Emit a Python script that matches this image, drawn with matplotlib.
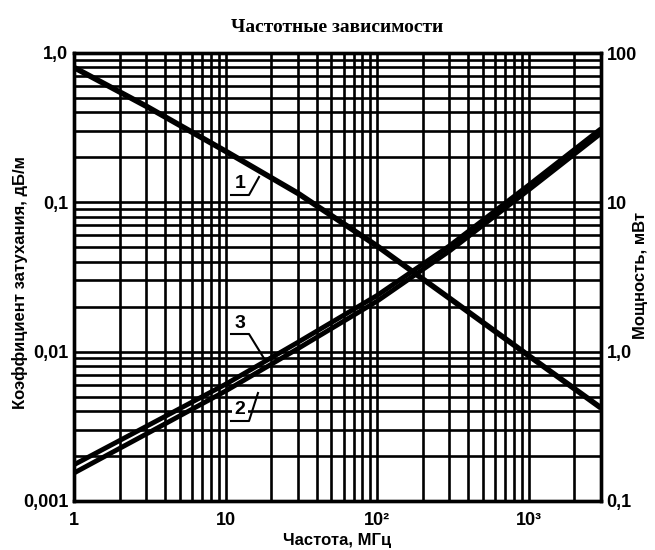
import matplotlib
matplotlib.use("Agg")
import matplotlib.pyplot as plt
from matplotlib.ticker import FixedLocator, NullFormatter, NullLocator

# ---- data ----
freq = [1, 3, 10, 30, 100, 300, 1000, 3000]                         # MHz
curve1 = [0.80, 0.44, 0.22, 0.115, 0.051, 0.0228, 0.0094, 0.0042]     # attenuation, dB/m
curve3 = [0.00175, 0.00316, 0.00605, 0.01155, 0.0238, 0.0511, 0.1303, 0.311]
curve2 = [0.00154, 0.00281, 0.00545, 0.01048, 0.0218, 0.0472, 0.1211, 0.290]

x_ticks = [1, 10, 100, 1000]
x_ticklabels = ["1", "10", "10²", "10³"]
y_ticks = [0.001, 0.01, 0.1, 1.0]
y_ticklabels = ["0,001", "0,01", "0,1", "1,0"]
y2_ticks = [0.1, 1, 10, 100]
y2_ticklabels = ["0,1", "1,0", "10", "100"]

title = "Частотные зависимости"
xlabel = "Частота, МГц"
ylabel = "Коэффициент затухания, дБ/м"
y2label = "Мощность, мВт"

FONT = ["Liberation Sans", "DejaVu Sans"]
plt.rcParams["font.family"] = FONT

fig = plt.figure(figsize=(6.55, 5.5), dpi=100)
ax = fig.add_axes([74 / 655, 1 - 501 / 550, 527 / 655, 448 / 550])
ax.set_xscale("log")
ax.set_yscale("log")
ax.set_xlim(1, 3000)
ax.set_ylim(0.001, 1.0)

# grid
minor_x = [m * 10 ** d for d in range(0, 3) for m in range(2, 10)] + [2000]
minor_y = [m * 10.0 ** d for d in range(-3, 0) for m in range(2, 10)]
ax.xaxis.set_major_locator(FixedLocator(x_ticks))
ax.xaxis.set_minor_locator(FixedLocator(minor_x))
ax.yaxis.set_major_locator(FixedLocator(y_ticks))
ax.yaxis.set_minor_locator(FixedLocator(minor_y))
ax.xaxis.set_minor_formatter(NullFormatter())
ax.yaxis.set_minor_formatter(NullFormatter())
ax.grid(True, which="both", color="black", linewidth=1.9)
ax.set_axisbelow(True)
ax.tick_params(which="both", length=0)
ax.set_xticklabels(x_ticklabels, fontsize=13, fontweight="bold")
ax.set_yticklabels(y_ticklabels, fontsize=13, fontweight="bold")
ax.tick_params(axis="x", pad=8)
ax.tick_params(axis="y", pad=4)
for s in ax.spines.values():
    s.set_linewidth(2.4)

# curves
ax.plot(freq, curve1, color="black", linewidth=4.0, solid_capstyle="butt")
ax.plot(freq, curve3, color="black", linewidth=3.5, solid_capstyle="butt")
ax.plot(freq, curve2, color="black", linewidth=3.5, solid_capstyle="butt")

# curve labels with leader lines
def tag(text, tx, ty, lx0, ly0, lx1, ly1, lx2, ly2):
    fig.text(tx / 655, 1 - ty / 550, text, fontsize=14, fontweight="bold",
             ha="center", va="center", zorder=5,
             bbox=dict(facecolor="white", edgecolor="none", pad=1.5))
    fig.add_artist(plt.Line2D([lx0 / 655, lx1 / 655, lx2 / 655],
                              [1 - ly0 / 550, 1 - ly1 / 550, 1 - ly2 / 550],
                              color="black", linewidth=1.5, zorder=6))

tag("1", 240, 183, 231, 195, 249, 195, 259, 177)
tag("3", 240, 323, 231, 334, 249, 334, 265, 360)
tag("2", 240, 410, 231, 421, 249, 421, 258, 393)

# right axis
ax2 = ax.twinx()
ax2.set_yscale("log")
ax2.set_ylim(0.1, 100)
ax2.yaxis.set_major_locator(FixedLocator(y2_ticks))
ax2.yaxis.set_minor_locator(NullLocator())
ax2.set_yticklabels(y2_ticklabels, fontsize=13, fontweight="bold")
ax2.tick_params(which="both", length=0, pad=4)
for s in ax2.spines.values():
    s.set_linewidth(2.4)

fig.text(337 / 655, 1 - 27 / 550, title, fontsize=14, fontweight="bold",
         family=["Liberation Serif", "DejaVu Serif"], ha="center", va="center")
fig.text(337 / 655, 1 - 541 / 550, xlabel, fontsize=12, fontweight="bold",
         ha="center", va="center")
fig.text(20 / 655, 1 - 283 / 550, ylabel, fontsize=12, fontweight="bold",
         rotation=90, ha="center", va="center")
fig.text(641 / 655, 1 - 275 / 550, y2label, fontsize=12, fontweight="bold",
         rotation=90, ha="center", va="center")

fig.savefig("out.png", dpi=100, facecolor="white")
